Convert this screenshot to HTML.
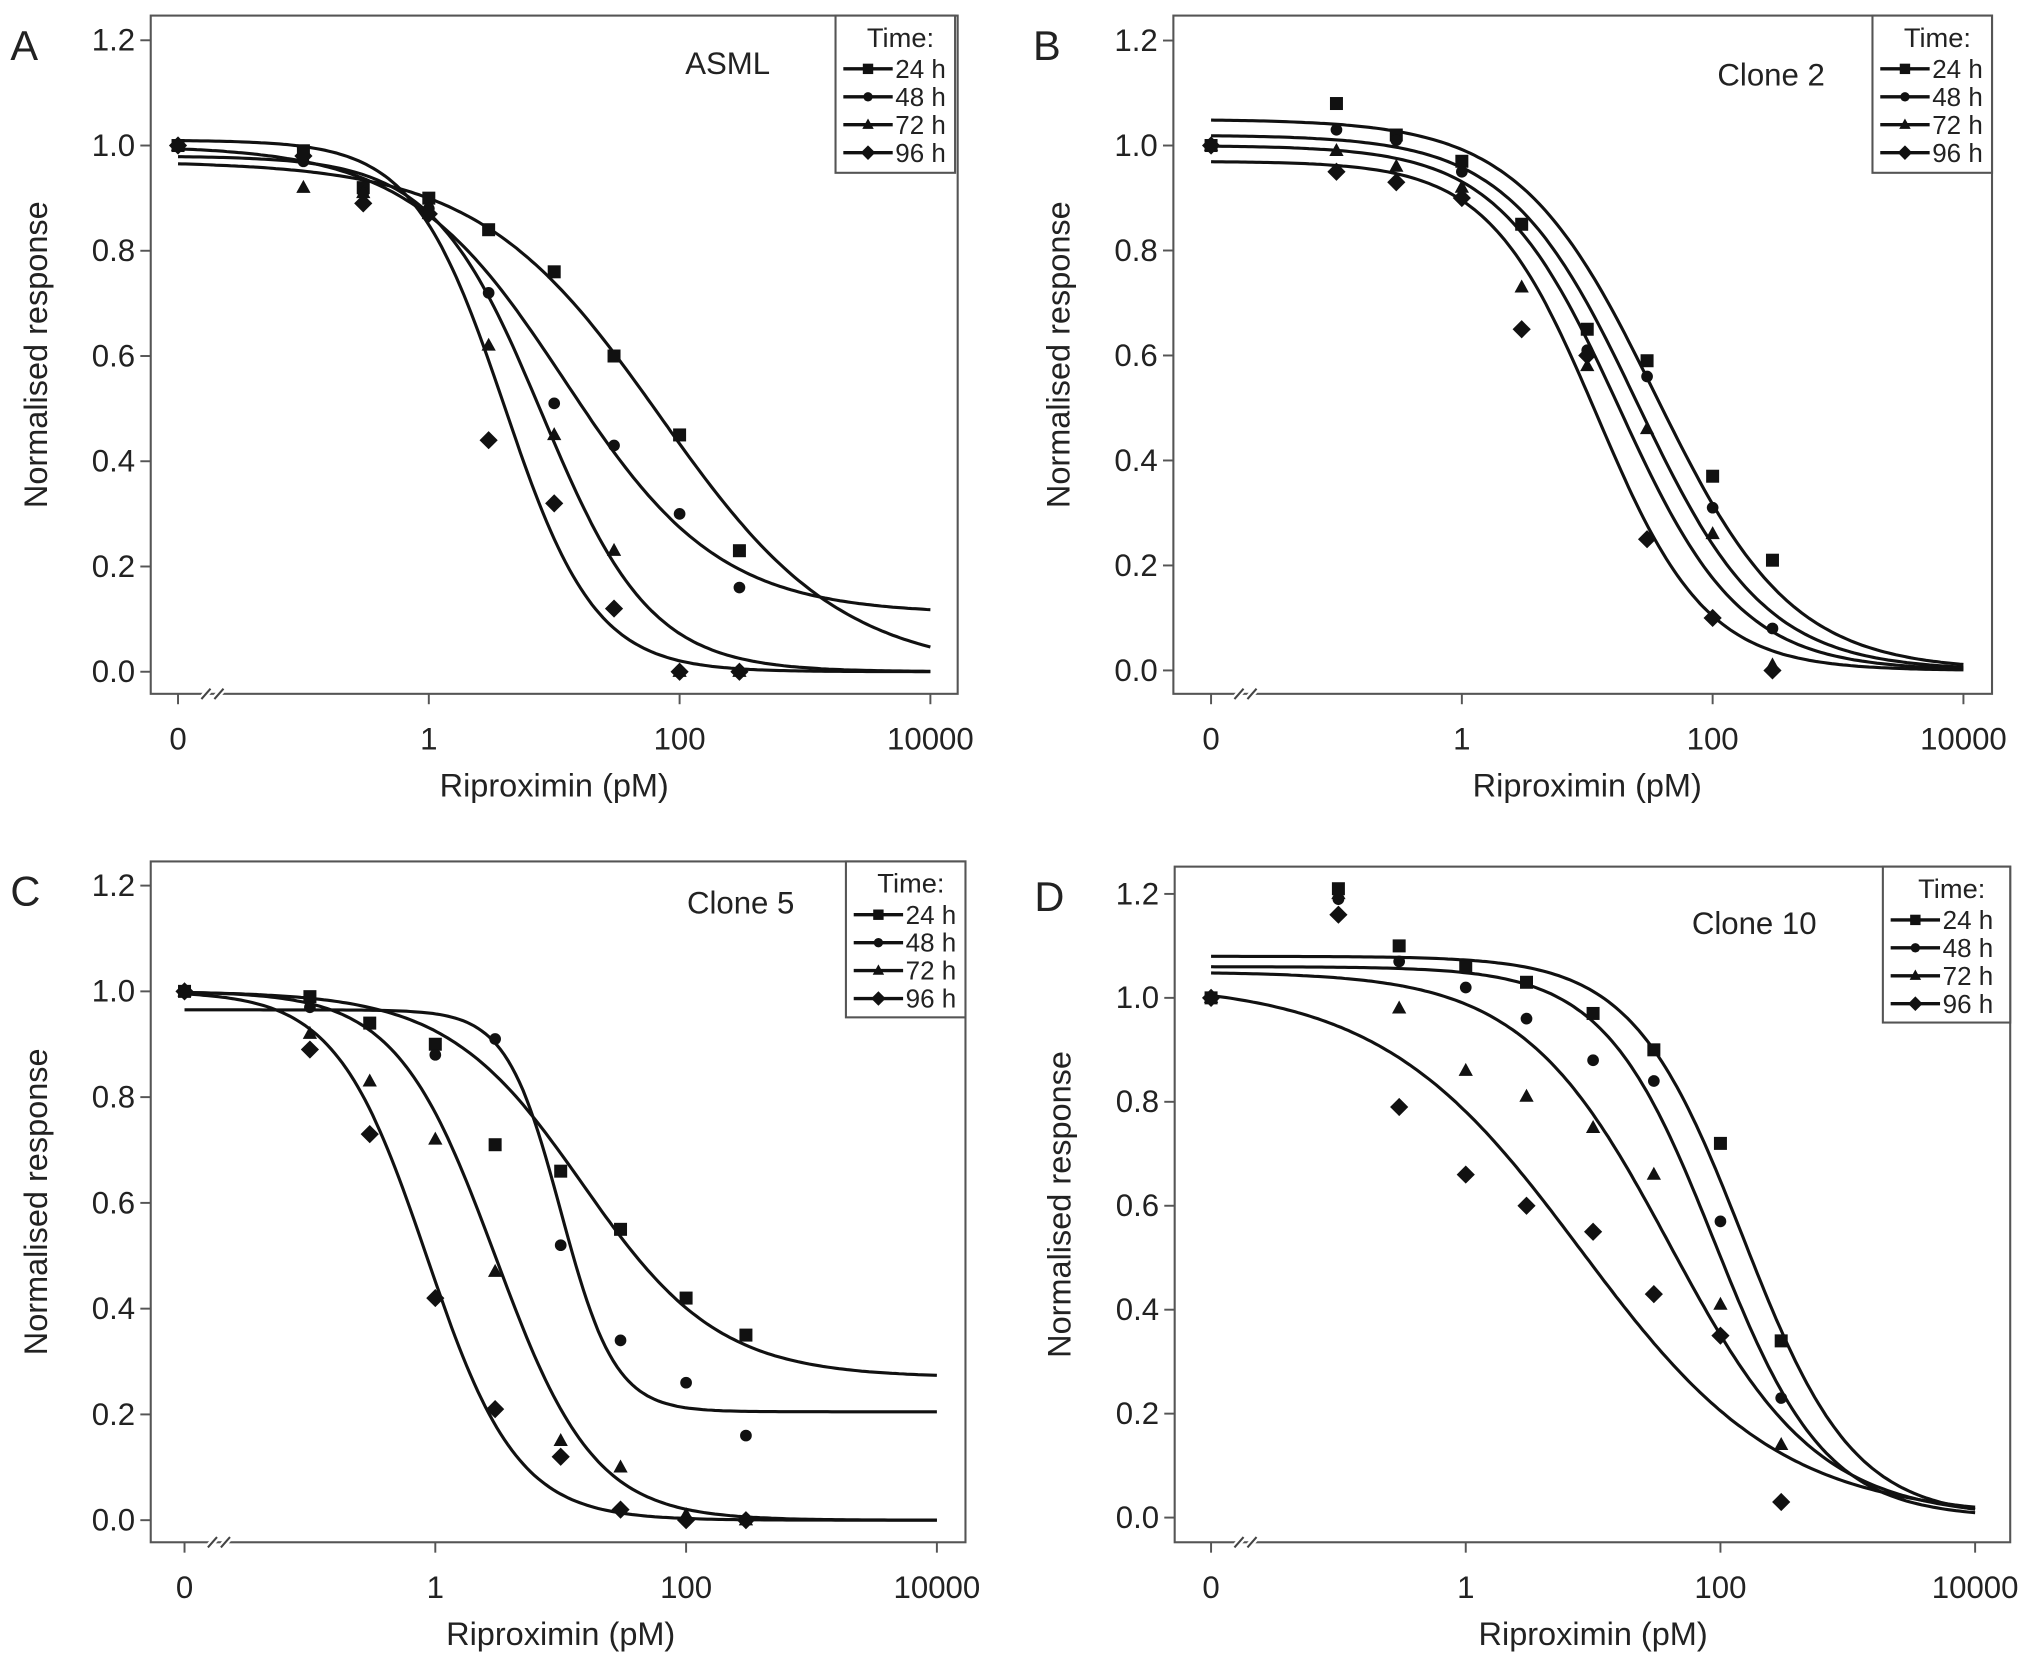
<!DOCTYPE html>
<html><head><meta charset="utf-8">
<style>
html,body{margin:0;padding:0;background:#fff;}
svg{display:block;}
text{font-family:"Liberation Sans",Arial,sans-serif;fill:#222;}
</style></head>
<body>
<svg id="chart" width="2031" height="1667" viewBox="0 0 1563 1283" preserveAspectRatio="none" xmlns="http://www.w3.org/2000/svg"></svg>
<script>
// Concentrations (pM); 0 plotted at break position
const concs = [0, 0.1, 0.3, 1, 3, 10, 30, 100, 300];
const seriesNames = ["24 h", "48 h", "72 h", "96 h"];
const xTicks = [0, 1, 100, 10000];
const xTickLabels = ["0", "1", "100", "10000"];
const yTicks = [0, 0.2, 0.4, 0.6, 0.8, 1.0, 1.2];
const yTickLabels = ["0.0", "0.2", "0.4", "0.6", "0.8", "1.0", "1.2"];

// Panel A (ASML)
const a24 = [1.0, 0.99, 0.92, 0.90, 0.84, 0.76, 0.60, 0.45, 0.23];
const a48 = [1.0, 0.97, 0.91, 0.88, 0.72, 0.51, 0.43, 0.30, 0.16];
const a72 = [1.0, 0.92, 0.91, 0.87, 0.62, 0.45, 0.23, 0.00, 0.00];
const a96 = [1.0, 0.98, 0.89, 0.87, 0.44, 0.32, 0.12, 0.00, 0.00];
// fit params: [top, bottom, ec50, hill]
const aFit = [[0.97, 0, 70, 0.6], [1.0, 0.11, 12, 0.7], [0.98, 0, 8, 1.0], [1.01, 0, 4, 1.2]];

// Panel B (Clone 2)
const b24 = [1.0, 1.08, 1.02, 0.97, 0.85, 0.65, 0.59, 0.37, 0.21];
const b48 = [1.0, 1.03, 1.01, 0.95, 0.85, 0.61, 0.56, 0.31, 0.08];
const b72 = [1.0, 0.99, 0.96, 0.92, 0.73, 0.58, 0.46, 0.26, 0.01];
const b96 = [1.0, 0.95, 0.93, 0.90, 0.65, 0.60, 0.25, 0.10, 0.00];
const bFit = [[1.05, 0, 35, 0.8], [1.02, 0, 25, 0.85], [1.0, 0, 18, 0.9], [0.97, 0, 12, 1.0]];

// Panel C (Clone 5)
const c24 = [1.0, 0.99, 0.94, 0.90, 0.71, 0.66, 0.55, 0.42, 0.35];
const c48 = [1.0, 0.97, 0.94, 0.88, 0.91, 0.52, 0.34, 0.26, 0.16];
const c72 = [1.0, 0.92, 0.83, 0.72, 0.47, 0.15, 0.10, 0.01, 0.00];
const c96 = [1.0, 0.89, 0.73, 0.42, 0.21, 0.12, 0.02, 0.00, 0.00];
const cFit = [[1.0, 0.27, 15, 0.8], [0.965, 0.205, 10, 2.0], [1.0, 0, 3, 1.1], [1.0, 0, 0.85, 1.2]];

// Panel D (Clone 10)
const d24 = [1.0, 1.21, 1.10, 1.06, 1.03, 0.97, 0.90, 0.72, 0.34];
const d48 = [1.0, 1.19, 1.07, 1.02, 0.96, 0.88, 0.84, 0.57, 0.23];
const d72 = [1.0, 1.20, 0.98, 0.86, 0.81, 0.75, 0.66, 0.41, 0.14];
const d96 = [1.0, 1.16, 0.79, 0.66, 0.60, 0.55, 0.43, 0.35, 0.03];
const dFit = [[1.08, 0, 150, 1.0], [1.06, 0, 90, 1.0], [1.05, 0, 40, 0.75], [1.03, 0, 8, 0.55]];

const NS = "http://www.w3.org/2000/svg";
const svg = document.getElementById("chart");
function mk(tag, attrs, parent) {
  const e = document.createElementNS(NS, tag);
  for (const k in attrs) e.setAttribute(k, attrs[k]);
  (parent || svg).appendChild(e);
  return e;
}

const panels = [
  {letter: "A", title: "ASML", data: [a24, a48, a72, a96], fit: aFit,
   box: [116, 12, 737, 534], x1: 330, dec: 96.5, y0: 517, yu: 405, tx: 560, ty: 57, leg: [643, 12, 735, 133]},
  {letter: "B", title: "Clone 2", data: [b24, b48, b72, b96], fit: bFit,
   box: [903, 12, 1533, 534], x1: 1125, dec: 96.5, y0: 516, yu: 404, tx: 1363, ty: 66, leg: [1441, 12, 1533, 133]},
  {letter: "C", title: "Clone 5", data: [c24, c48, c72, c96], fit: cFit,
   box: [116, 663, 743, 1187], x1: 335, dec: 96.5, y0: 1170, yu: 407, tx: 570, ty: 703, leg: [651, 663, 743, 783]},
  {letter: "D", title: "Clone 10", data: [d24, d48, d72, d96], fit: dFit,
   box: [904, 667, 1547, 1187], x1: 1128, dec: 98, y0: 1168, yu: 400, tx: 1350, ty: 719, leg: [1449, 667, 1547, 787]}
];

function drawMarker(g, type, x, y, s) {
  let m;
  if (type === 0) m = mk("rect", {x: x - s, y: y - s, width: 2 * s, height: 2 * s, fill: "#111"}, g);
  else if (type === 1) m = mk("circle", {cx: x, cy: y, r: s * 0.9, fill: "#111"}, g);
  else if (type === 2) m = mk("polygon", {points: `${x},${y - s * 1.2} ${x - s * 1.1},${y + s * 0.8} ${x + s * 1.1},${y + s * 0.8}`, fill: "#111"}, g);
  else m = mk("polygon", {points: `${x},${y - s * 1.4} ${x + s * 1.4},${y} ${x},${y + s * 1.4} ${x - s * 1.4},${y}`, fill: "#111"}, g);
  return m;
}

panels.forEach((p, pi) => {
  const g = mk("g", {});
  
  
  const xs = c => p.x1 + p.dec * Math.log10(c <= 0 ? 0.01 : c);
  const ys = v => p.y0 - p.yu * v;
  const [L, T, R, B] = p.box;

  const frame = mk("rect", {x: L, y: T, width: R - L, height: B - T, fill: "none", stroke: "#555", "stroke-width": 1.6}, g);
  
  

  const bx = xs(0) + 28;
  mk("path", {d: `M${bx - 10},${B + 4} L${bx - 3},${B - 4} M${bx},${B + 4} L${bx + 7},${B - 4}`, stroke: "#fff", "stroke-width": 5}, g);
  const brk2 = mk("path", {d: `M${bx - 10},${B + 4} L${bx - 3},${B - 4} M${bx},${B + 4} L${bx + 7},${B - 4}`, stroke: "#444", "stroke-width": 1.6}, g);
  
  

  yTicks.forEach((v, i) => {
    const y = ys(v);
    mk("line", {x1: L - 8, x2: L, y1: y, y2: y, stroke: "#555", "stroke-width": 1.5}, g);
    const t = mk("text", {x: L - 12, y: y + 8, "text-anchor": "end", "font-size": 24}, g);
    t.textContent = yTickLabels[i];
    
    
  });
  xTicks.forEach((c, i) => {
    const x = xs(c);
    mk("line", {x1: x, x2: x, y1: B, y2: B + 8, stroke: "#555", "stroke-width": 1.5}, g);
    const t = mk("text", {x: x, y: B + 43, "text-anchor": "middle", "font-size": 24}, g);
    t.textContent = xTickLabels[i];
    
    
  });
  const xt = mk("text", {x: (xs(0) + xs(10000)) / 2, y: B + 79, "text-anchor": "middle", "font-size": 25}, g);
  xt.textContent = "Riproximin (pM)";
  
  
  const ymid = (T + B) / 2;
  const ytl = mk("text", {x: 0, y: 0, "text-anchor": "middle", "font-size": 25, transform: `translate(${L - 80},${ymid}) rotate(-90)`}, g);
  ytl.textContent = "Normalised response";
  
  

  const lt = mk("text", {x: L - 108, y: T + 34, "font-size": 32}, g);
  lt.textContent = p.letter;
  
  
  const tt = mk("text", {x: p.tx, y: p.ty, "text-anchor": "middle", "font-size": 24}, g);
  tt.textContent = p.title;
  
  

  p.fit.forEach((f, si) => {
    const [top, bot, ec, h] = f;
    let d = "";
    for (let k = 0; k <= 200; k++) {
      const lc = -2 + 6 * k / 200;
      const c = Math.pow(10, lc);
      const v = bot + (top - bot) / (1 + Math.pow(c / ec, h));
      d += (k ? "L" : "M") + (p.x1 + p.dec * lc).toFixed(1) + "," + ys(v).toFixed(1);
    }
    const path = mk("path", {d: d, fill: "none", stroke: "#111", "stroke-width": 2.4}, g);
    
    
  });
  p.data.forEach((arr, si) => {
    arr.forEach((v, i) => {
      const m = drawMarker(g, si, xs(concs[i]), ys(v), 5);
      
      
    });
  });

  const [lx0, ly0, lx1, ly1] = p.leg;
  const lg = mk("g", {}, g);
  
  
  mk("rect", {x: lx0, y: ly0, width: lx1 - lx0, height: ly1 - ly0, fill: "#fff", stroke: "#555", "stroke-width": 1.6}, lg);
  const lh = mk("text", {x: (lx0 + lx1) / 2 + 4, y: ly0 + 24, "text-anchor": "middle", "font-size": 21}, lg);
  lh.textContent = "Time:";
  seriesNames.forEach((n, si) => {
    const yy = ly0 + 41 + si * 21.5;
    const e = mk("g", {}, lg);
    
    
    mk("line", {x1: lx0 + 6, x2: lx0 + 44, y1: yy, y2: yy, stroke: "#111", "stroke-width": 2.6}, e);
    drawMarker(e, si, lx0 + 25, yy, 4);
    const t = mk("text", {x: lx0 + 46, y: yy + 7, "font-size": 20}, e);
    t.textContent = n;
  });
});
</script>
</body></html>
